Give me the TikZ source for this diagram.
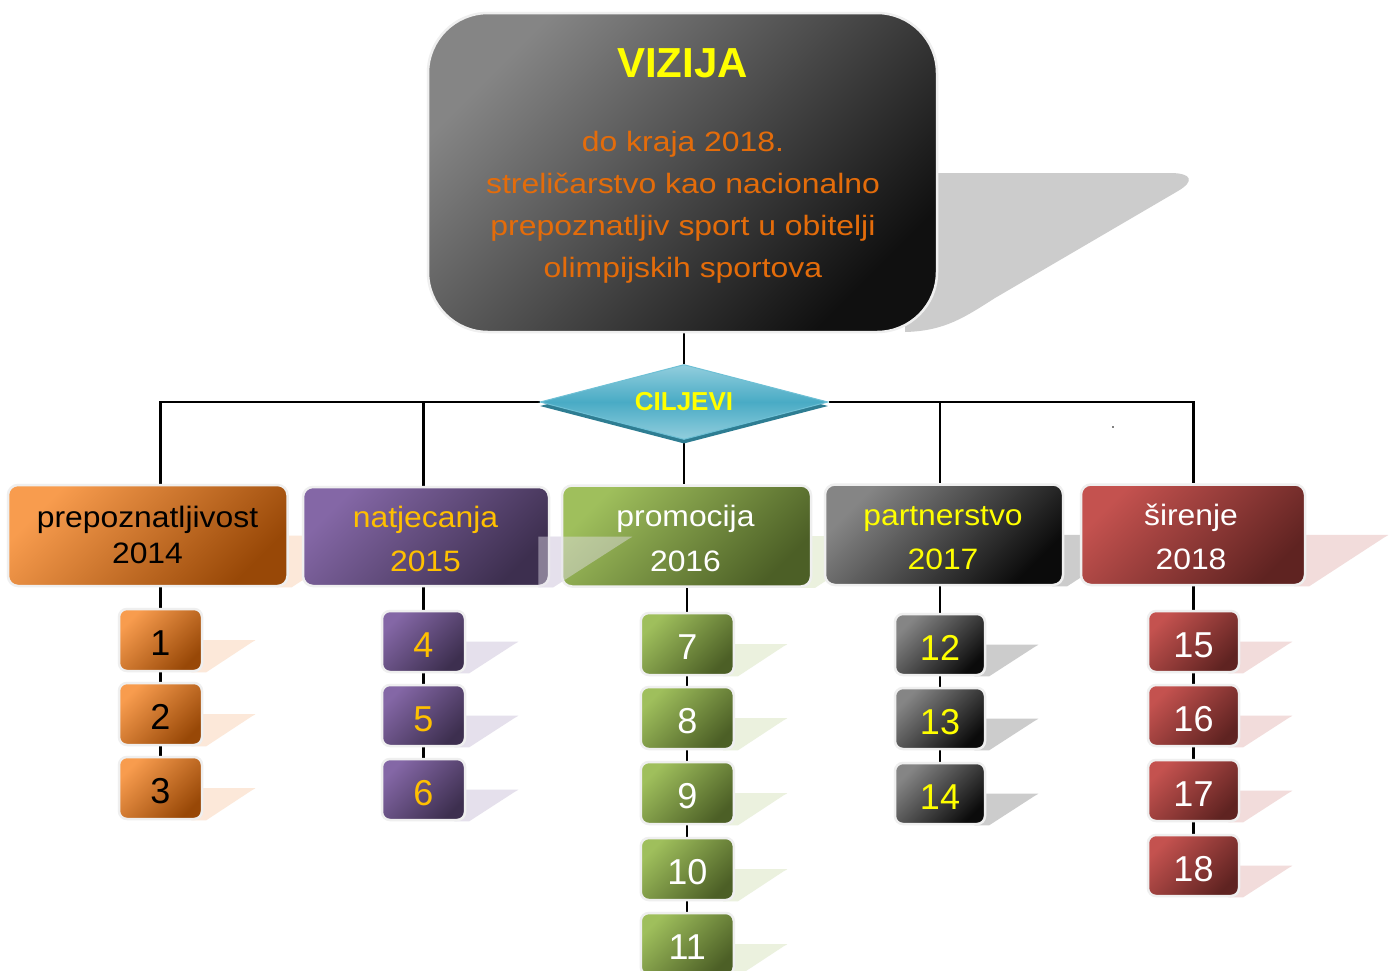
\documentclass[tikz,border=0pt]{standalone}
\usepackage{fontspec}
\setmainfont{Liberation Sans}
\newfontfamily\wideSans[FakeStretch=1.14]{Liberation Sans}
\newfontfamily\wideSansB[FakeStretch=1.08]{Liberation Sans}
\usetikzlibrary{shapes.geometric,calc}
\pgfdeclarelayer{bg}
\pgfsetlayers{bg,main}
\definecolor{visL}{HTML}{858585}
\definecolor{visD}{HTML}{101010}
\definecolor{visTxt}{HTML}{E46C0A}
\definecolor{yel}{HTML}{FFFF00}
\definecolor{gold}{HTML}{FFC000}
\definecolor{orL}{HTML}{F89C4E}
\definecolor{orD}{HTML}{984807}
\definecolor{puL}{HTML}{8467A6}
\definecolor{puD}{HTML}{3D2F4F}
\definecolor{grL}{HTML}{9FBF5C}
\definecolor{grD}{HTML}{4C5F26}
\definecolor{gyL}{HTML}{858585}
\definecolor{gyD}{HTML}{0B0B0B}
\definecolor{reL}{HTML}{C4524F}
\definecolor{reD}{HTML}{5F2321}
\definecolor{orS}{HTML}{FCE8D9}
\definecolor{puS}{HTML}{E5E0EC}
\definecolor{grS}{HTML}{EBF1DE}
\definecolor{gyS}{HTML}{CCCCCC}
\definecolor{reS}{HTML}{F2DCDB}
\definecolor{tealA}{HTML}{49ABC5}
\definecolor{tealB}{HTML}{92CEDD}
\definecolor{tealC}{HTML}{6EC0D5}
\definecolor{tealS}{HTML}{2E7D92}
\definecolor{edge}{HTML}{EFEFEF}
\newcommand\boxshade[3]{%
  \fill[#2] ($(#1.east)+(-12,0)$) -- ($(#1.east)+(#3-3,0)$)
    .. controls ($(#1.east)+(#3+1,0)$) .. ($(#1.east)+(#3-3,2)$)
    -- ($(#1.south east)+(3,0)$) -- ($(#1.south east)+(-12,0)$) -- cycle;}
\begin{document}
\begin{tikzpicture}[x=1pt,y=-1pt,
  conn/.style={line width=2.3pt, draw=black},
  boxbase/.style={rectangle, draw=edge, line width=2.5pt, inner sep=0pt},
  visbox/.style={boxbase, rounded corners=60pt, top color=visL, bottom color=visD, shading angle=45},
  lvbox/.style={boxbase, rounded corners=10pt},
  numbox/.style={boxbase, rounded corners=8pt, font=\fontsize{36}{40}\selectfont, text height=31.8pt, text depth=0pt},
  orF/.style={top color=orL, bottom color=orD, shading angle=45, text=black},
  puF/.style={top color=puL, bottom color=puD, shading angle=45, text=gold},
  grF/.style={top color=grL, bottom color=grD, shading angle=45, text=white},
  gyF/.style={top color=gyL, bottom color=gyD, shading angle=45, text=yel},
  reF/.style={top color=reL, bottom color=reD, shading angle=45, text=white},
  lvtxt/.style={font=\wideSansB\fontsize{29.5}{44.4}\selectfont, align=center, inner sep=0pt},
  colA/.style={numbox, orF, minimum width=83pt, minimum height=62pt},
  colB/.style={numbox, puF, minimum width=83pt, minimum height=61pt},
  colC/.style={numbox, grF, minimum width=93pt, minimum height=62pt},
  colD/.style={numbox, gyF, minimum width=90pt, minimum height=61pt},
  colE/.style={numbox, reF, minimum width=91pt, minimum height=61pt}
]
\useasboundingbox (0,0) rectangle (1392,970);

% vision
\node[visbox, minimum width=509pt, minimum height=319pt] (v) at (682.5,172.5) {};
\node[font=\bfseries\fontsize{42}{48}\selectfont, text=yel, inner sep=0pt] (vt) at (682.5,63) {VIZIJA};
\node[font=\wideSans\fontsize{28}{41.7}\selectfont, text=visTxt, align=center, inner sep=0pt] (vb) at (683,207.3)
  {do kraja 2018.\\streličarstvo kao nacionalno\\prepoznatljiv sport u obitelji\\olimpijskih sportova};

% diamond
\node[diamond, minimum width=288pt, minimum height=75pt, inner sep=0pt, aspect=3.84, fill=tealS] (ds) at (684,406) {};
\node[diamond, minimum width=288pt, minimum height=75pt, inner sep=0pt, aspect=3.84, draw=tealC, line width=1pt,
  top color=tealB, bottom color=tealB, middle color=tealA,
  font=\bfseries\fontsize{26}{30}\selectfont, text=yel] (d) at (684,402) {CILJEVI};

% level 2
\node[lvbox, orF, minimum width=279.5pt, minimum height=101pt] (c1) at (147.75,535.5) {};
\node[lvbox, puF, minimum width=246pt, minimum height=99pt] (c2) at (426,536.5) {};
\node[lvbox, grF, minimum width=249pt, minimum height=101pt] (c3) at (686.5,536) {};
\node[lvbox, gyF, minimum width=238pt, minimum height=100.5pt] (c4) at (944,534.75) {};
\node[lvbox, reF, minimum width=224pt, minimum height=100.5pt] (c5) at (1193,534.75) {};
\boxshade{c2}{puS, opacity=0.45}{82}
\node[lvtxt, font=\wideSansB\fontsize{29.5}{36}\selectfont, text=black] (t1) at (147.5,534.75) {prepoznatljivost\\2014};
\node[lvtxt, text=gold] (t2) at (425.5,538.9) {natjecanja\\2015};
\node[lvtxt, text=white] (t3) at (685.5,538.3) {promocija\\2016};
\node[lvtxt, text=yel] (t4) at (943,538.1) {partnerstvo\\2017};
\node[lvtxt, text=white] (t5) at (1191,536.6) {širenje\\2018};

% small boxes
\node[colA] (n1) at (160.5,640) {1};
\node[colA] (n2) at (160.5,714) {2};
\node[colA] (n3) at (160.5,788) {3};
\node[colB] (n4) at (423.5,641.5) {4};
\node[colB] (n5) at (423.5,715.5) {5};
\node[colB] (n6) at (423.5,789.5) {6};
\node[colC] (n7) at (687.3,644) {7};
\node[colC] (n8) at (687.3,718) {8};
\node[colC] (n9) at (687.3,793) {9};
\node[colC] (n10) at (687.3,869) {10};
\node[colC] (n11) at (687.3,944) {11};
\node[colD] (n12) at (940,644.5) {12};
\node[colD] (n13) at (940,718.5) {13};
\node[colD] (n14) at (940,793.5) {14};
\node[colE] (n15) at (1193.5,641.5) {15};
\node[colE] (n16) at (1193.5,715.5) {16};
\node[colE] (n17) at (1193.5,790.5) {17};
\node[colE] (n18) at (1193.5,865.5) {18};

\fill (1113,427) circle (0.9);

\begin{pgfonlayer}{bg}
  \fill[white] (0,0) rectangle (1392,970);
  % vision shadow
  \fill[gyS] (905,173) -- (1170,173) .. controls (1192,173) and (1195,181) .. (1178,191)
    -- (995,298) .. controls (965,317) and (945,331) .. (905,332) -- cycle;
  \boxshade{c1}{orS}{82}
  \boxshade{c2}{puS}{82}
  \boxshade{c3}{grS}{82}
  \boxshade{c4}{gyS}{82}
  \boxshade{c5}{reS}{82}
  \foreach \n in {1,2,3} {\boxshade{n\n}{orS}{52}}
  \foreach \n in {4,5,6} {\boxshade{n\n}{puS}{52}}
  \foreach \n in {7,8,9,10,11} {\boxshade{n\n}{grS}{52}}
  \foreach \n in {12,13,14} {\boxshade{n\n}{gyS}{52}}
  \foreach \n in {15,16,17,18} {\boxshade{n\n}{reS}{52}}
  % connectors
  \draw[conn] (v.south -| d.north) -- (d.north);
  \draw[conn] (d.west) -| (c1.north -| n1.north);
  \draw[conn] (d.west -| n4.north) -- (c2.north -| n4.north);
  \draw[conn] (d.east) -| (c5.north -| n15.north);
  \draw[conn] (d.east -| n12.north) -- (c4.north -| n12.north);
  \draw[conn] (d.south) -- (c3.north -| d.south);
  \draw[conn] (c1.south -| n1.north) -- (n1.north);
  \draw[conn] (n1.south) -- (n2.north);
  \draw[conn] (n2.south) -- (n3.north);
  \draw[conn] (c2.south -| n4.north) -- (n4.north);
  \draw[conn] (n4.south) -- (n5.north);
  \draw[conn] (n5.south) -- (n6.north);
  \draw[conn] (c3.south -| n7.north) -- (n7.north);
  \draw[conn] (n7.south) -- (n8.north);
  \draw[conn] (n8.south) -- (n9.north);
  \draw[conn] (n9.south) -- (n10.north);
  \draw[conn] (n10.south) -- (n11.north);
  \draw[conn] (c4.south -| n12.north) -- (n12.north);
  \draw[conn] (n12.south) -- (n13.north);
  \draw[conn] (n13.south) -- (n14.north);
  \draw[conn] (c5.south -| n15.north) -- (n15.north);
  \draw[conn] (n15.south) -- (n16.north);
  \draw[conn] (n16.south) -- (n17.north);
  \draw[conn] (n17.south) -- (n18.north);
\end{pgfonlayer}
\end{tikzpicture}
\end{document}
